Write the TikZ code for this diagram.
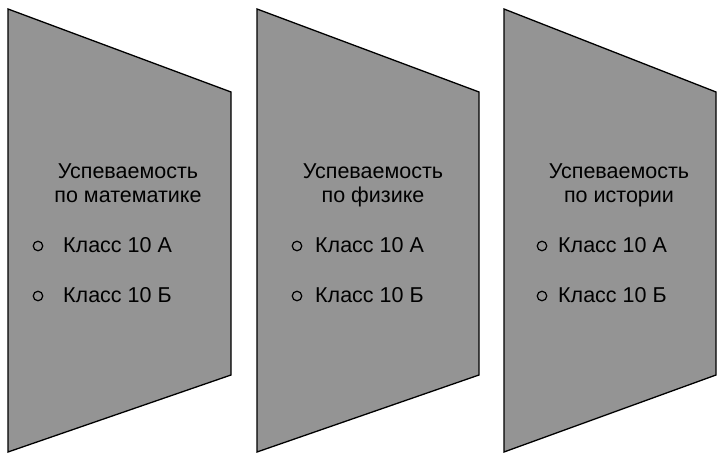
\documentclass[tikz,border=0pt]{standalone}
\usepackage{fontspec}
\setmainfont{Liberation Sans}
\begin{document}
\begin{tikzpicture}[x=1pt,y=-1pt,
  panel/.style={draw=black, line width=1.3pt, fill=black!42, line join=miter},
  txt/.style={font=\fontsize{21.5}{25}\selectfont, inner sep=0pt},
  title/.style={txt, anchor=base},
  item/.style={txt, anchor=base west},
  bullet/.style={circle, draw=black, line width=1.2pt, minimum size=9.5pt, inner sep=0pt}]
\useasboundingbox (0,0) rectangle (718,454);

% three slanted panels: left x, right x, title centre, second title line,
% bullet x, item text x
\foreach \L/\R/\tc/\sub/\cx/\tx/\n in {
    8/231/128/{по математике}/38/63/1,
    257/479/373/{по физике}/297/315/2,
    504/716/619/{по истории}/542/558/3}{
  \path[panel] (\L,9) -- (\R,92) -- (\R,375) -- (\L,452) -- cycle;
  \node[title] (t\n a) at (\tc,179) {Успеваемость};
  \node[title] (t\n b) at (\tc,203) {\sub};
  \node[bullet] (c\n a) at (\cx,246) {};
  \node[item]   (k\n a) at (\tx,253) {Класс 10 А};
  \node[bullet] (c\n b) at (\cx,296) {};
  \node[item]   (k\n b) at (\tx,303) {Класс 10 Б};
}
\end{tikzpicture}
\end{document}
